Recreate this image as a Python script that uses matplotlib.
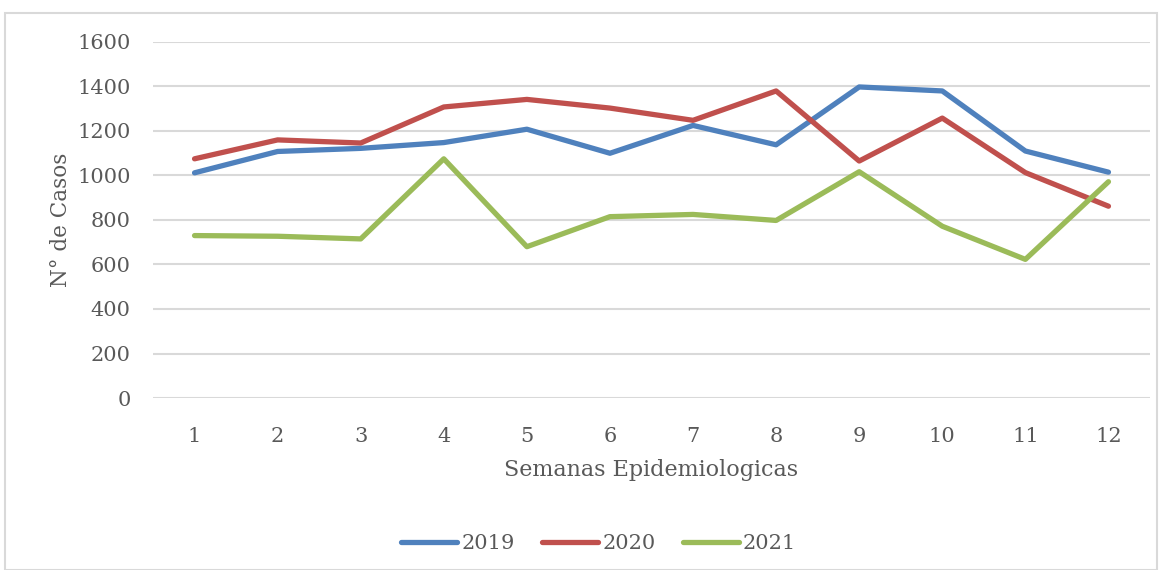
import matplotlib
matplotlib.use("Agg")
import matplotlib.pyplot as plt
from matplotlib.patches import Rectangle

semanas = list(range(1, 13))
casos_2019 = [1012, 1108, 1122, 1148, 1208, 1100, 1225, 1138, 1398, 1380, 1110, 1015]
casos_2020 = [1075, 1160, 1146, 1308, 1342, 1303, 1248, 1380, 1065, 1258, 1013, 862]
casos_2021 = [730, 727, 715, 1075, 680, 815, 825, 798, 1017, 772, 623, 972]
yticks = [0, 200, 400, 600, 800, 1000, 1200, 1400, 1600]

plt.rcParams['font.family'] = ['DejaVu Serif']
txt = '#595959'

fig = plt.figure(figsize=(11.76, 5.70), dpi=100)
# chart frame
fig.patches.append(Rectangle((5/1176, 0), 1152/1176, 557/570, transform=fig.transFigure,
                             fill=False, edgecolor='#D9D9D9', linewidth=1.5))
ax = fig.add_axes([153/1176, 1 - 398/570, (1150-153)/1176, (398-42)/570])

ax.plot(semanas, casos_2019, color='#4F81BD', lw=3.8, label='2019', solid_capstyle='round')
ax.plot(semanas, casos_2020, color='#C0504D', lw=3.8, label='2020', solid_capstyle='round')
ax.plot(semanas, casos_2021, color='#9BBB59', lw=3.8, label='2021', solid_capstyle='round')

ax.set_xlim(0.5, 12.5)
ax.set_ylim(0, 1600)
ax.set_yticks(yticks)
ax.set_xticks(semanas)
ax.grid(axis='y', color='#D9D9D9', lw=1.5)
ax.set_axisbelow(True)
for s in ax.spines.values():
    s.set_visible(False)
ax.tick_params(length=0, labelsize=15, colors=txt)
ax.tick_params(axis='y', pad=16)
ax.tick_params(axis='x', pad=21)
ax.set_xlabel('Semanas Epidemiologicas', fontsize=16, color=txt, labelpad=9)
ax.set_ylabel('N° de Casos', fontsize=15.5, color=txt, labelpad=4)

ax.legend(loc='center', bbox_to_anchor=(0.447, -0.41), ncol=3, frameon=False,
          fontsize=15, labelcolor=txt, handlelength=2.7, handletextpad=0.2, columnspacing=1.3)

fig.savefig('out.png', dpi=100)
